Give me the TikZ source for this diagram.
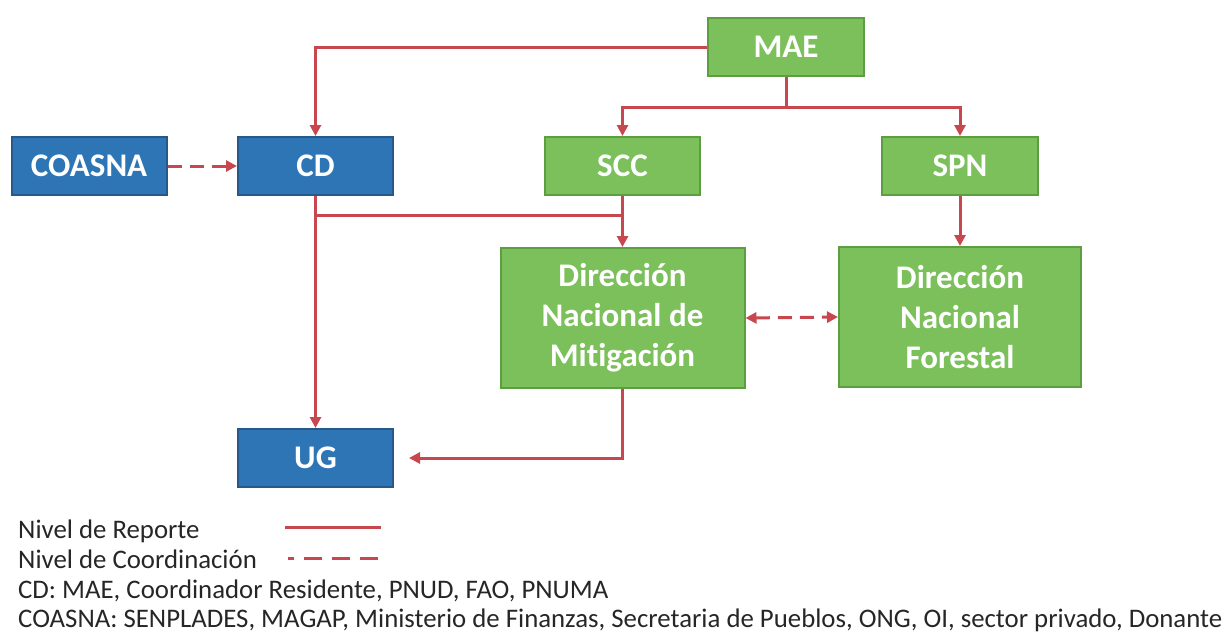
\documentclass[tikz,border=0pt]{standalone}
\usepackage{fontspec}
\setmainfont{Carlito}[Ligatures=NoCommon]
\usetikzlibrary{arrows.meta}
\definecolor{bluefill}{HTML}{2E75B6}
\definecolor{blueline}{HTML}{25598A}
\definecolor{greenfill}{HTML}{7CC05C}
\definecolor{greenline}{HTML}{5E9E42}
\definecolor{redline}{HTML}{C8474E}
\definecolor{legtext}{HTML}{262626}
\begin{document}
\begin{tikzpicture}[x=1pt,y=-1pt,
  box/.style={draw, line width=2pt, inner sep=0pt, minimum height=58pt,
    font=\fontsize{33}{40}\selectfont\bfseries, text=white, align=center},
  bluebox/.style={box, fill=bluefill, draw=blueline, minimum width=155pt},
  greenbox/.style={box, fill=greenfill, draw=greenline},
  repline/.style={draw=redline, line width=3pt},
  rep/.style={repline, -{Triangle[length=11pt,width=11pt]}},
  coordline/.style={repline, dash pattern=on 14pt off 8pt},
  legend/.style={anchor=base west, font=\fontsize{26.8}{30}\selectfont, text=legtext, inner sep=0pt}]
\useasboundingbox (0,0) rectangle (1227,638);
\node[bluebox] (coasna) at (89,166) {COASNA};
\node[bluebox] (cd) at (315.5,166) {CD};
\node[greenbox, minimum width=155pt] (scc) at (622.5,166) {SCC};
\node[greenbox, minimum width=156pt] (spn) at (960,166) {SPN};
\node[greenbox, minimum width=156pt] (mae) at (786,47) {MAE};
\node[greenbox, minimum width=244pt, minimum height=140pt] (dnm) at (622.5,318) {Dirección\\Nacional de\\Mitigación};
\node[greenbox, minimum width=242pt, minimum height=140pt] (dnf) at (960,317) {Dirección\\Nacional\\Forestal};
\node[bluebox] (ug) at (315.5,458) {UG};

\draw[rep] (mae.west) -| (cd.north);
\draw[rep] (mae.south) -- ++(0,30) -| (scc.north);
\draw[rep] (mae.south) -- ++(0,30) -| (spn.north);
\draw[rep] (cd.south) -- (ug.north);
\draw[rep] (scc.south) -- (dnm.north);
\path (cd.south) ++(0,19) coordinate (j1);
\draw[repline] (j1) -- (j1 -| scc.south);
\draw[rep] (spn.south) -- (dnf.north);
\draw[coordline, {Triangle[length=11pt,width=11pt]}-{Triangle[length=11pt,width=11pt]}] (dnm.east) -- (dnf.west);
\draw[coordline, -{Triangle[length=11pt,width=11pt]}] (coasna.east) -- (cd.west);
\draw[rep, shorten >=15pt] (dnm.south) |- (ug.east);

\node[legend] (l1) at (18,538) {Nivel de Reporte};
\node[legend] (l2) at (18,568) {Nivel de Coordinación};
\node[legend] (l3) at (18,598) {CD: MAE, Coordinador Residente, PNUD, FAO, PNUMA};
\node[legend] (l4) at (18,627) {COASNA: SENPLADES, MAGAP, Ministerio de Finanzas, Secretaria de Pueblos, ONG, OI, sector privado, Donante};
\coordinate (s1a) at (285,527);
\coordinate (s1b) at (381,527);
\draw[repline] (s1a) -- (s1b);
\coordinate (s2a) at (288,558);
\coordinate (s2b) at (381,558);
\draw[repline, dash pattern=on 18pt off 10pt, dash phase=12pt] (s2a) -- (s2b);
\end{tikzpicture}
\end{document}
